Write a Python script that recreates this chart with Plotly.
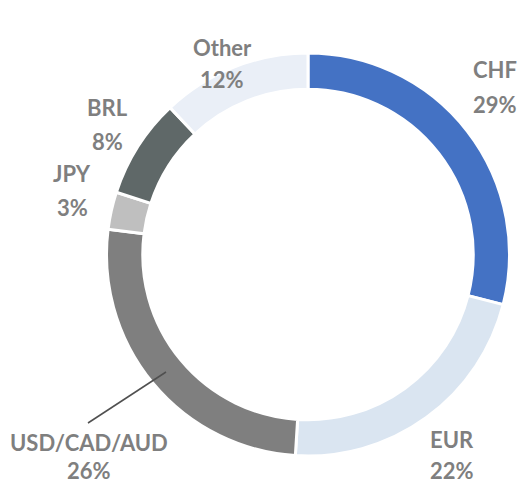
import plotly.graph_objects as go

# Currency exposure breakdown (percent of total)
currencies = ["CHF", "EUR", "USD/CAD/AUD", "JPY", "BRL", "Other"]
shares = [29, 22, 26, 3, 8, 12]
slice_colors = ["#4472C4", "#DAE5F1", "#7F7F7F", "#BFBFBF", "#5F6868", "#EAEFF7"]

W, H = 524, 483
CX, CY, R = 308, 254.5, 201.5  # ring centre and outer radius, in pixels


def px(x, y):
    """Convert pixel coordinates (top-left origin) to paper coordinates."""
    return x / W, 1 - y / H


fig = go.Figure(
    go.Pie(
        labels=currencies,
        values=shares,
        hole=0.82,
        sort=False,
        direction="clockwise",
        rotation=0,
        textinfo="none",
        marker=dict(colors=slice_colors, line=dict(color="white", width=3)),
        domain=dict(
            x=[(CX - R) / W, (CX + R) / W],
            y=[(H - CY - R) / H, (H - CY + R) / H],
        ),
        showlegend=False,
    )
)

# Label anchor points: (centre x, name line y, percent line y)
label_pos = {
    "CHF": (495, 70, 104),
    "EUR": (452, 439, 470),
    "USD/CAD/AUD": (89, 442, 470),
    "JPY": (72, 173, 207),
    "BRL": (107, 108, 141),
    "Other": (222, 47, 80),
}

annotations = []
for name, val in zip(currencies, shares):
    x, y1, y2 = label_pos[name]
    for txt, yy in ((name, y1), (f"{val}%", y2)):
        ax, ay = px(x, yy)
        anchor = "middle"
        if yy + 13 > H:
            # keep the bottom row fully inside the page
            ay, anchor = 0.0, "bottom"
        annotations.append(
            dict(
                text=txt,
                x=ax,
                y=ay,
                xref="paper",
                yref="paper",
                xanchor="center",
                yanchor=anchor,
                showarrow=False,
                borderpad=0,
                font=dict(family="Lato", size=22, color="#7F7F7F", weight="bold"),
            )
        )

# Leader line for the USD/CAD/AUD label
x0, y0 = px(88, 423)
x1, y1 = px(166, 372)
shapes = [
    dict(
        type="line",
        xref="paper",
        yref="paper",
        x0=x0,
        y0=y0,
        x1=x1,
        y1=y1,
        line=dict(color="#505050", width=1.5),
    )
]

fig.update_layout(
    width=W,
    height=H,
    margin=dict(l=0, r=0, t=0, b=0),
    paper_bgcolor="white",
    plot_bgcolor="white",
    annotations=annotations,
    shapes=shapes,
)

fig.write_html("out.html")
